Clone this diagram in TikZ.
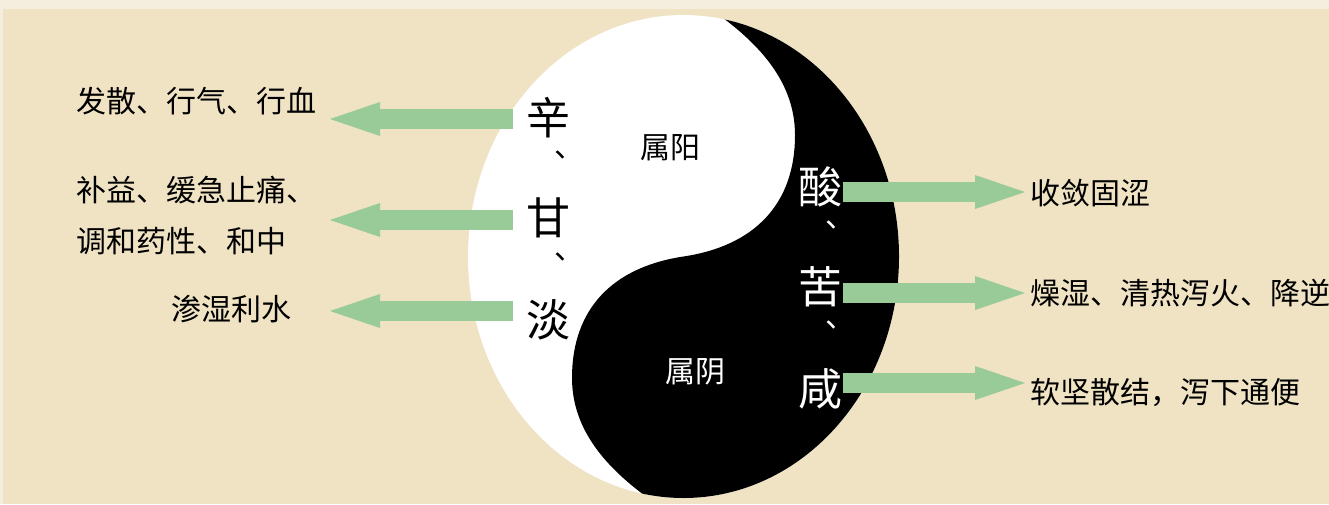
\documentclass[tikz,border=0pt]{standalone}
\usepackage{fontspec}
\newfontfamily\cjk{Noto Sans CJK SC}
\usetikzlibrary{arrows.meta}
\definecolor{bgmain}{RGB}{239,227,196}
\definecolor{bgedge}{RGB}{245,237,221}
\definecolor{arrowgreen}{RGB}{152,203,152}
\tikzset{
  lbl/.style={font=\cjk\fontsize{30}{51}\selectfont, inner sep=0pt, text=black, anchor=west},
  vch/.style={font=\cjk\fontsize{44}{44}\selectfont, inner sep=0pt},
  dun/.style={font=\cjk\fontsize{30}{30}\selectfont, inner sep=0pt, anchor=west},
  yylbl/.style={font=\cjk\fontsize{30}{30}\selectfont, inner sep=0pt},
  fatarrow/.style={draw=arrowgreen, line width=20pt,
    -{Triangle[length=50pt,width=34pt,line width=0pt,fill=arrowgreen]}},
}
\begin{document}
\begin{tikzpicture}[x=1pt,y=-1pt]
\useasboundingbox (0,0) rectangle (1329,504);
\fill[bgedge] (0,0) rectangle (1329,504);
\fill[bgmain] (3,9) rectangle (1329,504);

% yin-yang ellipse
\begin{scope}
  \clip (683.5,256.5) ellipse [x radius=215.5, y radius=241.5];
  \fill[white] (400,-20) rectangle (960,540);
  \fill[black] (723,-20) -- (723,18)
     .. controls (763,48) and (795,85) .. (795,135)
     .. controls (795,205) and (753.5,246) .. (683.5,256.5)
     .. controls (613.5,267) and (572,308) .. (572,378)
     .. controls (572,428) and (604,465) .. (644,495)
     -- (644,540) -- (960,540) -- (960,-20) -- cycle;
\end{scope}

% labels
\node[lbl] (l1) at (76,101) {发散、行气、行血};
\node[lbl, align=left] (l2) at (76,215) {补益、缓急止痛、\\调和药性、和中};
\node[lbl] (l3) at (171,309) {渗湿利水};
\node[lbl] (r1) at (1030,193) {收敛固涩};
\node[lbl] (r2) at (1030,293) {燥湿、清热泻火、降逆};
\node[lbl] (r3) at (1030,392) {软坚散结，泻下通便};

% vertical characters
\node[vch, text=black] (xin) at (548,118) {辛};
\node[dun, text=black] (d1) at (554,155) {、};
\node[vch, text=black] (gan) at (548,218) {甘};
\node[dun, text=black] (d2) at (554,257) {、};
\node[vch, text=black] (dan) at (548,320) {淡};

\node[vch, text=white] (suan) at (820,187) {酸};
\node[dun, text=white] (d3) at (825,225) {、};
\node[vch, text=white] (ku) at (820,287) {苦};
\node[dun, text=white] (d4) at (825,325) {、};
\node[vch, text=white] (xian) at (820,389) {咸};

\node[yylbl, text=black] (yang) at (670,148) {属阳};
\node[yylbl, text=white] (yin) at (695,372) {属阴};

% arrows
\coordinate (a1s) at (513,119); \coordinate (a1e) at (330,119);
\coordinate (a2s) at (513,220); \coordinate (a2e) at (330,220);
\coordinate (a3s) at (513,311); \coordinate (a3e) at (330,311);
\coordinate (b1s) at (843,192); \coordinate (b1e) at (1025,192);
\coordinate (b2s) at (843,293); \coordinate (b2e) at (1025,293);
\coordinate (b3s) at (843,383); \coordinate (b3e) at (1025,383);
\draw[fatarrow] (a1s) -- (a1e);
\draw[fatarrow] (a2s) -- (a2e);
\draw[fatarrow] (a3s) -- (a3e);
\draw[fatarrow] (b1s) -- (b1e);
\draw[fatarrow] (b2s) -- (b2e);
\draw[fatarrow] (b3s) -- (b3e);
\end{tikzpicture}
\end{document}
